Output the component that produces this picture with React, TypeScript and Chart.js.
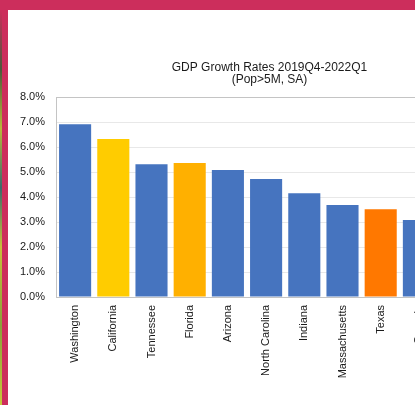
import React, { useEffect, useRef } from "react";
import { Chart, registerables } from "chart.js";

Chart.register(...registerables);

const titleLines = ["GDP Growth Rates 2019Q4-2022Q1", "(Pop>5M, SA)"];
const states = [
  "Washington",
  "California",
  "Tennessee",
  "Florida",
  "Arizona",
  "North Carolina",
  "Indiana",
  "Massachusetts",
  "Texas",
  "Georgia",
];
const growthPct = [6.91, 6.32, 5.31, 5.36, 5.08, 4.72, 4.15, 3.68, 3.51, 3.08];
const barColors = [
  "#4674bf",
  "#ffcc00",
  "#4674bf",
  "#ffb000",
  "#4674bf",
  "#4674bf",
  "#4674bf",
  "#4674bf",
  "#ff7800",
  "#4674bf",
];
const yTickMin = 0;
const yTickMax = 8;
const yTickStep = 1;

const FONT = "'Liberation Sans', Arial, Helvetica, sans-serif";

const frameBox = {
  id: "frameBox",
  afterDatasetsDraw(chart: any) {
    const { ctx, chartArea } = chart;
    ctx.save();
    ctx.strokeStyle = "#c4c4c4";
    ctx.lineWidth = 1;
    ctx.beginPath();
    ctx.moveTo(chartArea.left + 0.5, chartArea.bottom + 0.5);
    ctx.lineTo(chartArea.left + 0.5, chartArea.top + 0.5);
    ctx.lineTo(chartArea.right + 0.5, chartArea.top + 0.5);
    ctx.stroke();
    ctx.restore();
  },
};

export default function App() {
  const ref = useRef<HTMLCanvasElement | null>(null);

  useEffect(() => {
    if (!ref.current) return;
    const chart = new Chart(ref.current, {
      type: "bar",
      data: {
        labels: states,
        datasets: [
          {
            data: growthPct,
            backgroundColor: barColors,
            borderWidth: 0,
            barPercentage: 0.84,
            categoryPercentage: 1,
          },
        ],
      },
      options: {
        responsive: false,
        animation: false,
        devicePixelRatio: 1,
        layout: { padding: 0 },
        plugins: {
          legend: { display: false },
          tooltip: { enabled: false },
          title: {
            display: true,
            text: titleLines,
            color: "#1a1a1a",
            font: { family: FONT, size: 12, weight: "normal", lineHeight: 1 },
            padding: { top: 52, bottom: 11 },
          },
        },
        scales: {
          x: {
            grid: { display: false, drawTicks: false },
            border: { display: true, color: "#c4c4c4" },
            ticks: {
              color: "#1a1a1a",
              font: { family: FONT, size: 11 },
              maxRotation: 90,
              minRotation: 90,
              padding: 8,
              autoSkip: false,
            },
            afterFit(scale: any) {
              scale.height = 108;
            },
          },
          y: {
            min: yTickMin,
            max: yTickMax,
            grid: { color: "#e8e8e8", drawTicks: false },
            border: { display: true, color: "#c4c4c4" },
            ticks: {
              stepSize: yTickStep,
              color: "#1a1a1a",
              font: { family: FONT, size: 11 },
              padding: 11,
              callback: (v: any) => Number(v).toFixed(1) + "%",
            },
            afterFit(scale: any) {
              scale.width = 47;
            },
          },
          ySpacer: {
            position: "right",
            display: true,
            grid: { display: false, drawTicks: false },
            border: { display: false },
            ticks: { display: false },
            afterFit(scale: any) {
              scale.width = 92;
            },
          },
        },
      },
      plugins: [frameBox],
    });
    return () => chart.destroy();
  }, []);

  return (
    <div
      style={{
        position: "fixed",
        left: 0,
        top: 0,
        width: 415,
        height: 405,
        overflow: "hidden",
        background: "#ffffff",
      }}
    >
      <canvas
        ref={ref}
        width={521}
        height={395}
        style={{ position: "absolute", left: 9, top: 10, width: 521, height: 395 }}
      />
      <div
        style={{
          position: "absolute",
          left: 0,
          top: 0,
          width: 415,
          height: 10,
          background: "#cc2e5c",
        }}
      />
      <div
        style={{
          position: "absolute",
          left: 2,
          top: 0,
          width: 6,
          height: 405,
          background: "#cc2e5c",
        }}
      />
      <div
        style={{
          position: "absolute",
          left: 0,
          top: 10,
          width: 2,
          height: 395,
          background:
            "linear-gradient(to bottom, #cc2e5c 0%, #4a5a3a 15%, #b8b83a 30%, #3a6a6a 45%, #c8c03a 60%, #8aa03a 80%, #c8c83a 100%)",
        }}
      />
    </div>
  );
}
